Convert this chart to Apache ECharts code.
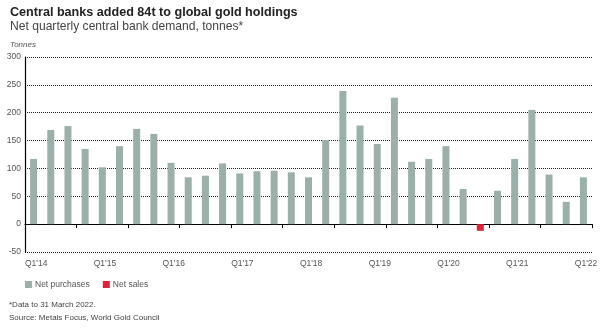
<!DOCTYPE html>
<html><head><meta charset="utf-8">
<script src="https://cdn.jsdelivr.net/npm/echarts@6/dist/echarts.min.js"></script>
<style>html,body{margin:0;padding:0;background:#fff}#c{width:603px;height:328px}</style>
</head><body><div id="c"></div>
<script>
const quarters = ["Q1'14","Q2'14","Q3'14","Q4'14","Q1'15","Q2'15","Q3'15","Q4'15","Q1'16","Q2'16","Q3'16","Q4'16","Q1'17","Q2'17","Q3'17","Q4'17","Q1'18","Q2'18","Q3'18","Q4'18","Q1'19","Q2'19","Q3'19","Q4'19","Q1'20","Q2'20","Q3'20","Q4'20","Q1'21","Q2'21","Q3'21","Q4'21","Q1'22"];
const demand = [117,169,176,135,102,140,171,162,110,84,87,109,91,95,96,93,84,151,239,177,144,227,112,117,140,63,-12,60,117,205,89,40,84];
const tickLabels = ["Q1'14","","","","Q1'15","","","","Q1'16","","","","Q1'17","","","","Q1'18","","","","Q1'19","","","","Q1'20","","","","Q1'21","","","","Q1'22",""];
const purchases = demand.map(v => v >= 0 ? v : null);
const sales = demand.map(v => v < 0 ? v : null);
const FONT = "Liberation Sans";
const chart = echarts.init(document.getElementById('c'), null, {renderer:'canvas'});
chart.setOption({
  animation:false,
  textStyle:{fontFamily:FONT},
  title:[
    {text:'Central banks added 84t to global gold holdings', left:10, top:6, padding:0, textStyle:{fontFamily:FONT,fontSize:12.6,fontWeight:'bold',color:'#222'}},
    {text:'Net quarterly central bank demand, tonnes*', left:10, top:21, padding:0, textStyle:{fontFamily:FONT,fontSize:12.1,fontWeight:'normal',color:'#444'}},
    {text:'Tonnes', left:10, top:41, padding:0, textStyle:{fontFamily:FONT,fontSize:8,fontStyle:'italic',fontWeight:'normal',color:'#555'}},
    {text:'*Data to 31 March 2022.', left:9, top:301, padding:0, textStyle:{fontFamily:FONT,fontSize:8,fontWeight:'normal',color:'#444'}},
    {text:'Source: Metals Focus, World Gold Council', left:9, top:314, padding:0, textStyle:{fontFamily:FONT,fontSize:8,fontWeight:'normal',color:'#444'}}
  ],
  legend:{left:25, top:280, padding:0, itemWidth:7, itemHeight:7, itemGap:13, icon:'rect',
    textStyle:{fontFamily:FONT,fontSize:8.5,color:'#555',padding:[0,0,0,-2]},
    data:['Net purchases','Net sales']},
  grid:{left:25, right:11, top:57, bottom:76},
  xAxis:[
    {type:'category', data:quarters, position:'bottom',
     axisLine:{onZero:true, lineStyle:{color:'#000',width:1.2}},
     axisTick:{show:true, inside:false, length:4, lineStyle:{color:'#000'}},
     axisLabel:{show:false}, splitLine:{show:false}},
    {type:'category', data:tickLabels, boundaryGap:false, position:'bottom',
     axisLine:{show:false, onZero:false}, axisTick:{show:false},
     axisLabel:{show:true, interval:0, align:'left', margin:7, fontFamily:FONT, fontSize:8.5, color:'#555'},
     splitLine:{show:false}}
  ],
  yAxis:{type:'value', min:-50, max:300, interval:50,
    axisLine:{show:true, lineStyle:{color:'#000',width:1.2}},
    axisTick:{show:false},
    axisLabel:{fontFamily:FONT, fontSize:8.5, color:'#555', margin:4},
    splitLine:{show:true, lineStyle:{color:'#222', type:'dotted', width:1}}},
  series:[
    {name:'Net purchases', type:'bar', data:purchases, stack:'t', barWidth:7, itemStyle:{color:'#9bb0a6'}, xAxisIndex:0},
    {name:'Net sales', type:'bar', data:sales, stack:'t', barWidth:7, itemStyle:{color:'#e3203a'}, xAxisIndex:0}
  ]
});
</script></body></html>
